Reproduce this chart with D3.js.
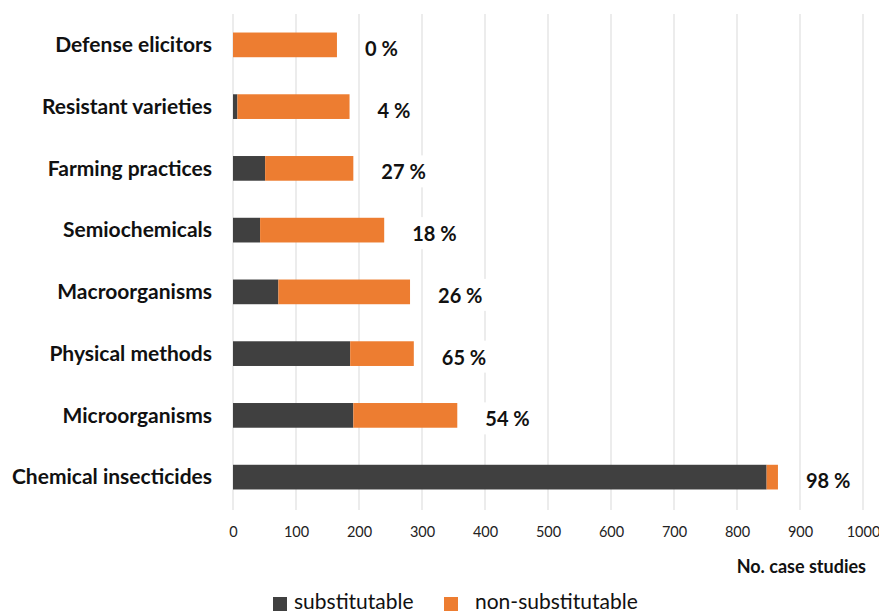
<!DOCTYPE html>
<html>
<head>
<meta charset="utf-8">
<script src="https://cdn.jsdelivr.net/npm/d3@7"></script>
<style>
  body { margin: 0; background: #fff; }
  svg { font-family: Lato, "Open Sans", sans-serif; }
</style>
</head>
<body>
<svg width="879" height="615"></svg>
<script>
// data (number of case studies)
var categories = ["Defense elicitors", "Resistant varieties", "Farming practices", "Semiochemicals",
  "Macroorganisms", "Physical methods", "Microorganisms", "Chemical insecticides"];
var substitutable = [0, 7, 51, 43, 72, 186, 191, 847];
var nonSubstitutable = [165, 178, 140, 197, 209, 101, 165, 18];
var shareLabels = ["0 %", "4 %", "27 %", "18 %", "26 %", "65 %", "54 %", "98 %"];
var xTicks = [0, 100, 200, 300, 400, 500, 600, 700, 800, 900, 1000];
var seriesNames = ["substitutable", "non-substitutable"];

var colors = { "substitutable": "#404040", "non-substitutable": "#ed7d31" };

var rows = categories.map(function(c, i) {
  return { name: c, "substitutable": substitutable[i], "non-substitutable": nonSubstitutable[i], label: shareLabels[i] };
});

var svg = d3.select("svg");
var margin = { left: 233, top: 14 };

var x = d3.scaleLinear().domain([0, 1000]).range([0, 630]);
var y = d3.scaleBand().domain(categories).range([0, 494]).paddingInner(0.6).paddingOuter(0.3);

var g = svg.append("g").attr("transform", "translate(" + margin.left + "," + margin.top + ")");

// gridlines
g.selectAll("line.grid")
  .data(xTicks)
  .enter().append("line")
  .attr("class", "grid")
  .attr("x1", function(d) { return x(d); })
  .attr("x2", function(d) { return x(d); })
  .attr("y1", 0)
  .attr("y2", 496)
  .style("stroke", "#d9d9d9")
  .style("stroke-width", 1);

// stacked bars
var stack = d3.stack().keys(seriesNames);
var layers = stack(rows);

g.selectAll("g.layer")
  .data(layers)
  .enter().append("g")
  .attr("class", "layer")
  .style("fill", function(d) { return colors[d.key]; })
  .selectAll("rect")
  .data(function(d) { return d; })
  .enter().append("rect")
  .attr("x", function(d) { return x(d[0]); })
  .attr("y", function(d) { return y(d.data.name); })
  .attr("width", function(d) { return x(d[1]) - x(d[0]); })
  .attr("height", y.bandwidth());

// percentage labels with white boxes
var lab = g.selectAll("g.pct")
  .data(rows)
  .enter().append("g")
  .attr("class", "pct")
  .attr("transform", function(d) {
    var tot = d["substitutable"] + d["non-substitutable"];
    return "translate(" + (x(tot) + 28) + "," + (y(d.name) + y.bandwidth() / 2 + 4) + ")";
  });

lab.append("text")
  .attr("dy", "0.35em")
  .style("font-size", "20px")
  .style("font-weight", "bold")
  .style("fill", "#111")
  .text(function(d) { return d.label; });

lab.insert("rect", "text")
  .each(function() {
    var bb = this.nextSibling.getBBox();
    d3.select(this)
      .attr("x", bb.x - 5)
      .attr("y", bb.y - 4)
      .attr("width", bb.width + 10)
      .attr("height", bb.height + 8)
      .style("fill", "#fff");
  });

// category labels
g.selectAll("text.cat")
  .data(categories)
  .enter().append("text")
  .attr("class", "cat")
  .attr("x", -21)
  .attr("y", function(d) { return y(d) + y.bandwidth() / 2; })
  .attr("dy", "0.35em")
  .attr("text-anchor", "end")
  .style("font-size", "21px")
  .style("font-weight", "bold")
  .style("fill", "#111")
  .text(function(d) { return d; });

// x axis
var xAxis = d3.axisBottom(x).tickValues(xTicks).tickFormat(d3.format("d")).tickSize(0).tickPadding(13);
var ax = g.append("g").attr("transform", "translate(0,500)").call(xAxis);
ax.select(".domain").remove();
ax.selectAll("text")
  .style("font-family", "Lato, 'Open Sans', sans-serif")
  .style("font-size", "14.5px")
  .style("fill", "#222");

svg.append("text")
  .attr("x", 866)
  .attr("y", 573)
  .attr("text-anchor", "end")
  .style("font-size", "18px")
  .style("font-weight", "bold")
  .style("fill", "#111")
  .text("No. case studies");

// legend
var legendX = [273, 444];
var leg = svg.selectAll("g.legend")
  .data(seriesNames)
  .enter().append("g")
  .attr("class", "legend")
  .attr("transform", function(d, i) { return "translate(" + legendX[i] + ",597)"; });

leg.append("rect")
  .attr("width", 14)
  .attr("height", 14)
  .style("fill", function(d) { return colors[d]; });

leg.append("text")
  .attr("x", function(d, i) { return i == 0 ? 21 : 31; })
  .attr("y", 12)
  .style("font-size", "21px")
  .style("fill", "#111")
  .text(function(d) { return d; });
</script>
</body>
</html>
